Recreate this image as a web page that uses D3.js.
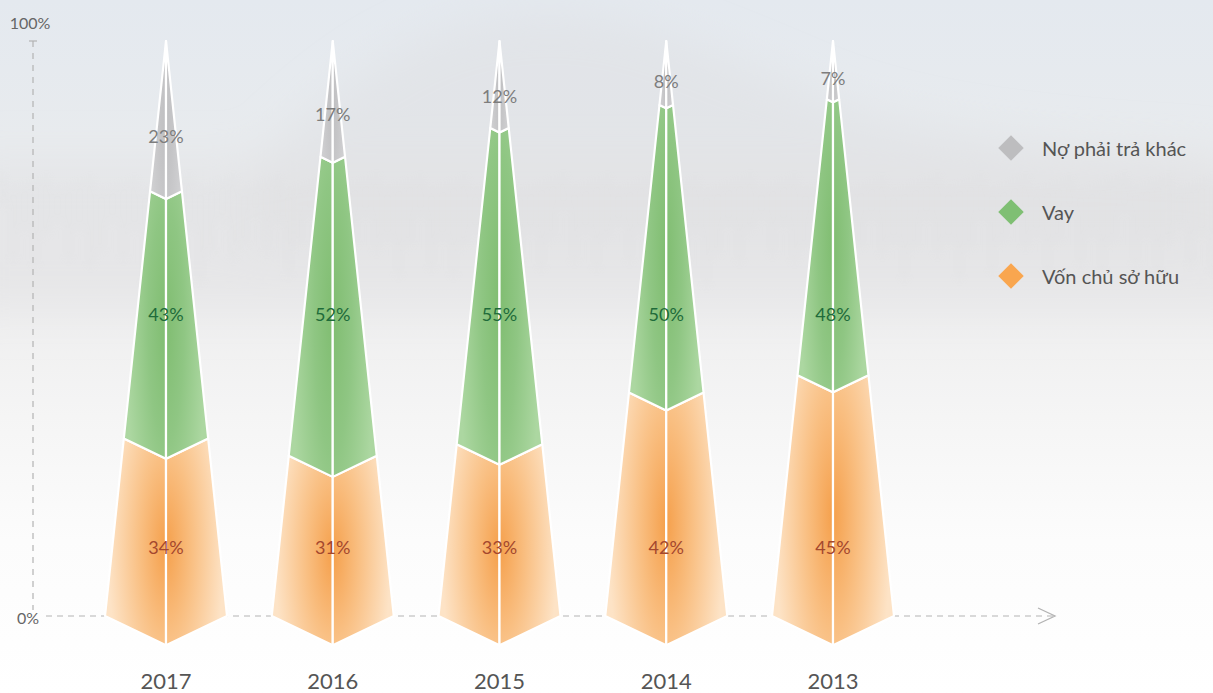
<!DOCTYPE html>
<html>
<head>
<meta charset="utf-8">
<script src="https://cdn.jsdelivr.net/npm/d3@7"></script>
<style>
  html, body { margin: 0; padding: 0; background: #fff; }
  svg { display: block; font-family: Lato, "DejaVu Sans", sans-serif; }
</style>
</head>
<body>
<svg id="chart" width="1213" height="693"></svg>
<script>
// data
const years = ["2017", "2016", "2015", "2014", "2013"];
const series = ["Vốn chủ sở hữu", "Vay", "Nợ phải trả khác"];
const vonChuSoHuu = [34, 31, 33, 42, 45];
const vay = [43, 52, 55, 50, 48];
const noPhaiTraKhac = [23, 17, 12, 8, 7];
const axisTicks = [0, 100];

const values = [vonChuSoHuu, vay, noPhaiTraKhac];
const legendOrder = [2, 1, 0];

let width = 1213, height = 693;
let svg = d3.select("#chart");
let defs = svg.append("defs");

// ---- background (misty forest, approximated)
let bg = defs.append("linearGradient").attr("id", "bg")
        .attr("x1", 0).attr("y1", 0).attr("x2", 0).attr("y2", 1);
[[0, "#e4e9ef"], [0.2, "#e8ebee"], [0.4, "#ececed"], [0.6, "#f5f5f5"], [0.78, "#fcfcfc"], [1, "#ffffff"]]
        .forEach(s => bg.append("stop").attr("offset", s[0]).attr("stop-color", s[1]));
defs.append("filter").attr("id", "blur").attr("x", "-20%").attr("y", "-20%").attr("width", "140%").attr("height", "140%")
        .append("feGaussianBlur").attr("stdDeviation", 22);
defs.append("filter").attr("id", "blur2")
        .append("feGaussianBlur").attr("stdDeviation", 4);

svg.append("rect").attr("width", width).attr("height", height).attr("fill", "url(#bg)");
let bgG = svg.append("g").attr("filter", "url(#blur)");
bgG.append("path")
        .attr("d", "M250,170 C350,70 420,25 520,15 C620,5 700,45 820,95 C900,125 1000,145 1213,155 L1213,250 L250,250 Z")
        .attr("fill", "#dfe1e4").attr("opacity", 0.6);
bgG.append("rect").attr("x", -40).attr("y", 160).attr("width", 1300).attr("height", 150)
        .attr("fill", "#e2e2e3").attr("opacity", 0.5);
let trees = svg.append("g").attr("filter", "url(#blur2)").attr("opacity", 0.1);
d3.range(0, 1213, 11).forEach((x, i) => {
        let h = 30 + ((i * 37) % 23) * 3;
        trees.append("rect").attr("x", x).attr("y", 175 + ((i * 13) % 17))
                .attr("width", 5).attr("height", h).attr("fill", "#c9cacb");
});

// ---- scales
let x = d3.scalePoint().domain(years).range([166, 833]);
let y = d3.scaleLinear().domain([0, 100]).range([616, 41]);          // axis + pyramid outline
let yb = d3.scaleLinear().domain([0, 100]).range([634, 59]);         // segment boundaries as drawn
let halfBase = 61;
let hwAt = py => halfBase * (py - y(100)) / (y(0) - y(100));
let dipK = 0.48;

function corner(c) {
        if (c <= 0) return y(0);
        if (c >= 100) return y(100);
        return yb(c);
}

// ---- axes
let axisColor = "#b3b3b3";
svg.append("line").attr("x1", 33).attr("x2", 33).attr("y1", y(100)).attr("y2", y(0) - 6)
        .attr("stroke", axisColor).attr("stroke-width", 1.2).attr("stroke-dasharray", "6,6");
svg.append("line").attr("x1", 29).attr("x2", 37).attr("y1", y(100)).attr("y2", y(100))
        .attr("stroke", axisColor).attr("stroke-width", 1.2);
svg.append("line").attr("x1", 46).attr("x2", 1053).attr("y1", y(0)).attr("y2", y(0))
        .attr("stroke", axisColor).attr("stroke-width", 1.2).attr("stroke-dasharray", "6,5");
svg.append("path").attr("d", `M1038,${y(0) - 8} L1055,${y(0)} L1038,${y(0) + 8}`)
        .attr("fill", "none").attr("stroke", axisColor).attr("stroke-width", 1.3);

svg.selectAll(".tickLabel").data(axisTicks).join("text")
        .attr("class", "tickLabel")
        .attr("x", d => d === 100 ? 30 : 28)
        .attr("y", d => d === 100 ? 22 : y(d) + 1)
        .attr("text-anchor", "middle").attr("dominant-baseline", "central")
        .attr("font-size", 16).attr("fill", "#666")
        .text(d => d + "%");

// ---- gradients
let palettes = [
        { name: "org", inner: "#f5a04c", mid: "#f9bf82", outer: "#fde3c6", label: "#a4472e", cy: "52%" },
        { name: "grn", inner: "#80bd71", mid: "#8fc683", outer: "#acd7a1", label: "#1e6b3a", cy: "50%" },
        { name: "gry", inner: "#bfbfc1", mid: "#c5c5c7", outer: "#cfcfd1", label: "#7d7d7d", cy: "50%" }
];
palettes.forEach(p => {
        ["L", "R"].forEach(side => {
                let g = defs.append("radialGradient").attr("id", p.name + side)
                        .attr("cx", side === "L" ? "100%" : "0%").attr("cy", p.cy)
                        .attr("r", "95%");
                g.append("stop").attr("offset", 0).attr("stop-color", p.inner);
                g.append("stop").attr("offset", 0.45).attr("stop-color", p.mid);
                g.append("stop").attr("offset", 1).attr("stop-color", p.outer);
        });
});

// ---- pyramids
let segs = [];
years.forEach((yr, i) => {
        let acc = 0;
        values.forEach((arr, s) => {
                segs.push({ year: yr, s: s, v: arr[i], lo: acc, hi: acc + arr[i] });
                acc += arr[i];
        });
});

function centerY(c) {
        let py = corner(c);
        return py + dipK * hwAt(py);
}

function facePath(d, side) {
        let cx = x(d.year);
        let sgn = side === "L" ? -1 : 1;
        let pts = [];
        let pLo = corner(d.lo);
        pts.push([cx, centerY(d.lo)]);
        pts.push([cx + sgn * hwAt(pLo), pLo]);
        if (d.hi >= 100) {
                pts.push([cx, y(100)]);
        } else {
                let pHi = corner(d.hi);
                pts.push([cx + sgn * hwAt(pHi), pHi]);
                pts.push([cx, centerY(d.hi)]);
        }
        return "M" + pts.map(p => p.join(",")).join("L") + "Z";
}

let pyr = svg.append("g");
["L", "R"].forEach(side => {
        pyr.selectAll(".face" + side).data(segs).join("path")
                .attr("class", "face" + side)
                .attr("d", d => facePath(d, side))
                .attr("fill", d => `url(#${palettes[d.s].name}${side})`)
                .attr("stroke", "#fff").attr("stroke-width", 2.2)
                .attr("stroke-linejoin", "round");
});

// value labels: bottom two series on fixed rows, top series inside its tip
let labelRow = [12, 52.5];
svg.append("g").selectAll("text").data(segs).join("text")
        .attr("x", d => x(d.year))
        .attr("y", d => {
                if (d.s < 2) return y(labelRow[d.s]);
                let bot = centerY(d.lo);
                let top = y(100);
                return top + (bot - top) * 0.6;
        })
        .attr("text-anchor", "middle").attr("dominant-baseline", "central")
        .attr("font-size", 18).attr("fill", d => palettes[d.s].label)
        .text(d => d.v + "%");

// year labels
svg.append("g").selectAll("text").data(years).join("text")
        .attr("x", d => x(d)).attr("y", 680)
        .attr("text-anchor", "middle").attr("dominant-baseline", "central")
        .attr("font-size", 22).attr("fill", "#555")
        .text(d => d);

// ---- legend
let legendColors = ["#f9a64f", "#7fbf73", "#bdbdbf"];
let lg = svg.append("g").selectAll("g").data(legendOrder).join("g")
        .attr("transform", (d, i) => `translate(1011,${148 + i * 64})`);
lg.append("rect").attr("x", -9).attr("y", -9).attr("width", 18).attr("height", 18)
        .attr("transform", "rotate(45)").attr("fill", d => legendColors[d]);
lg.append("text").attr("x", 31).attr("y", 0)
        .attr("dominant-baseline", "central")
        .attr("font-size", 20).attr("fill", "#555")
        .text(d => series[d]);
</script>
</body>
</html>
